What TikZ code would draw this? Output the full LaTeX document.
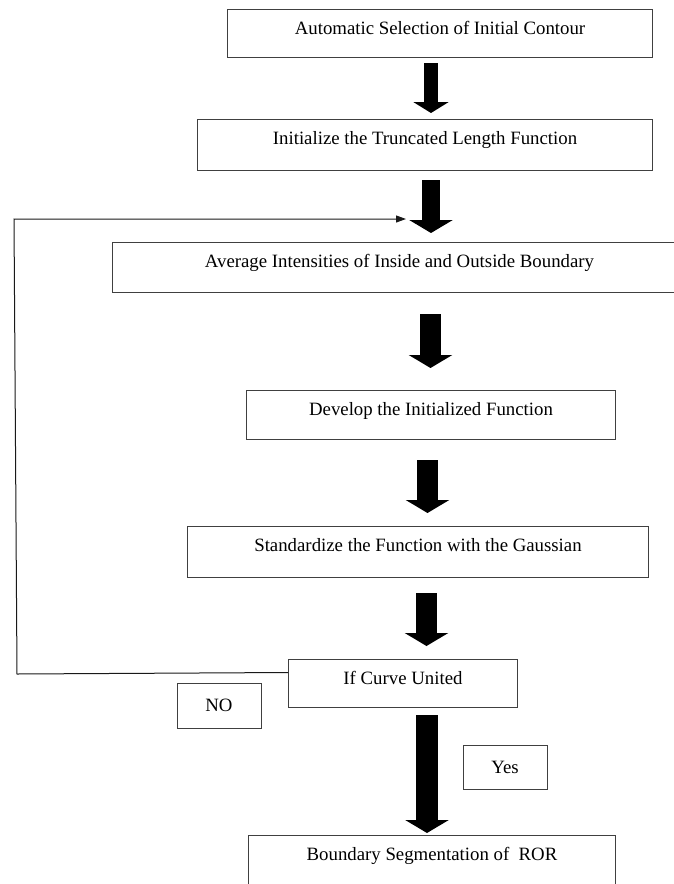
\documentclass[tikz,border=0pt]{standalone}
\usepackage{fontspec}
\setmainfont{Liberation Serif}
\usetikzlibrary{arrows.meta}
\tikzset{
  stepbox/.style={draw=black!75, line width=1pt, rectangle, anchor=north west,
    inner sep=0pt, text height=24.5pt, font=\fontsize{18.8}{22}\selectfont},
  tagbox/.style={draw=black!75, line width=1pt, rectangle, inner sep=0pt,
    minimum width=84pt, minimum height=45pt, font=\fontsize{18.8}{22}\selectfont},
  fatarrow/.style={line width=21pt, -{Triangle[width=43pt,length=13pt]}},
  loopline/.style={draw=black!90, line width=1pt}
}
\begin{document}
\begin{tikzpicture}[x=1pt,y=-1pt]
\useasboundingbox (0,0) rectangle (673,884);
\node[stepbox, minimum width=425pt, text depth=23.5pt] (contour) at (227,9) {Automatic Selection of Initial Contour};
\node[stepbox, minimum width=455pt, text depth=26.5pt] (truncated) at (197,119) {Initialize the Truncated Length Function};
\node[stepbox, minimum width=574pt, text depth=25.5pt] (average) at (112,242) {Average Intensities of Inside and Outside Boundary};
\node[stepbox, minimum width=369pt, text depth=24.5pt] (develop) at (246,390) {Develop the Initialized Function};
\node[stepbox, minimum width=461pt, text depth=26.5pt] (gauss) at (187,526) {Standardize the Function with the Gaussian};
\node[stepbox, minimum width=229pt, text depth=23.5pt] (united) at (288,659) {If Curve United};
\node[stepbox, minimum width=367pt, text depth=40.5pt] (segment) at (248,835) {Boundary Segmentation of \ ROR};
\node[tagbox] (no) at (219,705.5) {NO};
\node[tagbox, minimum height=44pt] (yes) at (505,767) {Yes};

\draw[fatarrow, line width=14pt, -{Triangle[width=35pt,length=11pt]}, shorten <=5pt, shorten >=6pt]
  (contour.south -| 431,0) -- (truncated.north -| 431,0);
\draw[fatarrow, line width=18pt, shorten <=9pt, shorten >=9pt] (truncated.south -| 431,0) -- (average.north -| 431,0);
\draw[fatarrow, shorten <=21pt, shorten >=22pt] (average.south -| 430.5,0) -- (develop.north -| 430.5,0);
\draw[fatarrow, shorten <=20pt, shorten >=13pt] (develop.south -| 427.5,0) -- (gauss.north -| 427.5,0);
\draw[fatarrow, shorten <=15pt, shorten >=13pt] (gauss.south -| 426.5,0) -- (united.north -| 426.5,0);
\draw[fatarrow, line width=22pt, shorten <=7pt, shorten >=2pt] (united.south -| 427,0) -- (segment.north -| 427,0);

\coordinate (loopA) at (17,674);
\coordinate (loopB) at (14,219);
\coordinate (loopC) at (406,219);
\draw[loopline, -{Triangle[length=10pt,width=7pt]}] ([yshift=11pt]united.west) -- (loopA) -- (loopB) -- (loopC);
\end{tikzpicture}
\end{document}
